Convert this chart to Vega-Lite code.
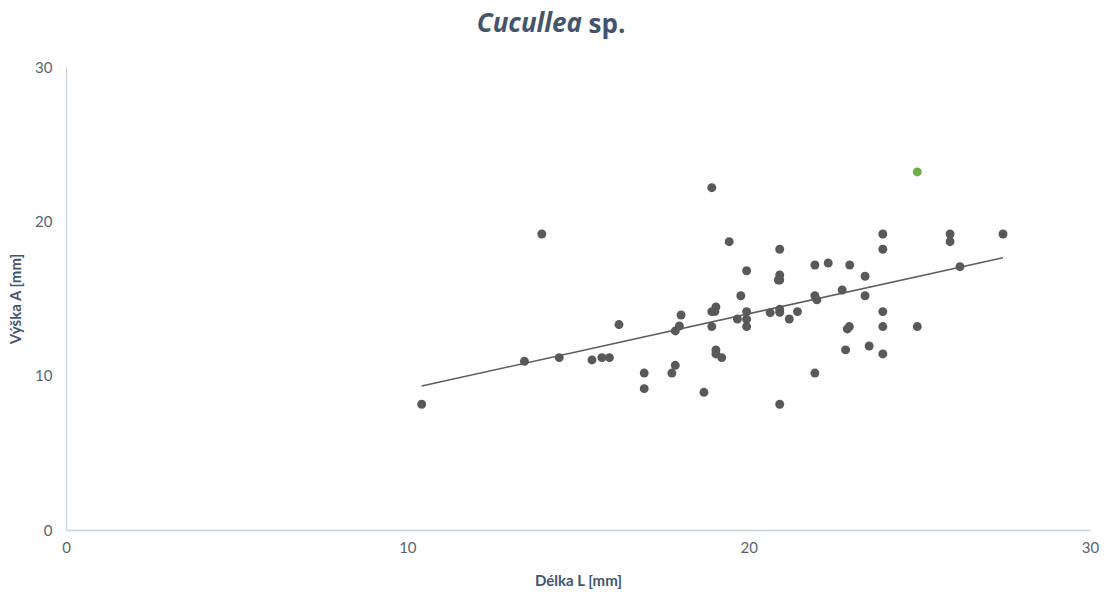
{
  "$schema": "https://vega.github.io/schema/vega-lite/v6.json",
  "width": 1024,
  "height": 463,
  "autosize": "none",
  "padding": {"left": 66, "top": 67, "right": 16, "bottom": 62},
  "background": "white",
  "title": {
    "text": "Cucullea",
    "anchor": "middle",
    "align": "right",
    "frame": "group",
    "dx": 4,
    "offset": -26,
    "font": "Open Sans",
    "fontSize": 26,
    "fontWeight": "bold",
    "fontStyle": "italic",
    "color": "#44546A"
  },
  "config": {
    "view": {"stroke": null},
    "axis": {
      "grid": false,
      "ticks": false,
      "labelFlush": false,
      "domainColor": "#C9D1DB",
      "domainWidth": 1.3,
      "labelFont": "Lato",
      "labelFontSize": 15,
      "labelColor": "#5A6470",
      "titleFont": "Lato",
      "titleFontSize": 15,
      "titleFontWeight": "bold",
      "titleColor": "#44546A"
    }
  },
  "datasets": {
    "mereni": [
      {"L": 10.42, "A": 8.15, "skupina": "vzorek"},
      {"L": 13.43, "A": 10.93, "skupina": "vzorek"},
      {"L": 13.94, "A": 19.18, "skupina": "vzorek"},
      {"L": 14.45, "A": 11.17, "skupina": "vzorek"},
      {"L": 15.41, "A": 11.02, "skupina": "vzorek"},
      {"L": 15.7, "A": 11.17, "skupina": "vzorek"},
      {"L": 15.92, "A": 11.17, "skupina": "vzorek"},
      {"L": 16.2, "A": 13.31, "skupina": "vzorek"},
      {"L": 16.94, "A": 10.17, "skupina": "vzorek"},
      {"L": 16.94, "A": 9.16, "skupina": "vzorek"},
      {"L": 17.75, "A": 10.17, "skupina": "vzorek"},
      {"L": 17.85, "A": 10.67, "skupina": "vzorek"},
      {"L": 17.85, "A": 12.9, "skupina": "vzorek"},
      {"L": 17.97, "A": 13.22, "skupina": "vzorek"},
      {"L": 18.02, "A": 13.93, "skupina": "vzorek"},
      {"L": 18.69, "A": 8.92, "skupina": "vzorek"},
      {"L": 18.92, "A": 22.18, "skupina": "vzorek"},
      {"L": 18.92, "A": 13.18, "skupina": "vzorek"},
      {"L": 18.92, "A": 14.15, "skupina": "vzorek"},
      {"L": 19.04, "A": 14.45, "skupina": "vzorek"},
      {"L": 19.01, "A": 14.15, "skupina": "vzorek"},
      {"L": 19.04, "A": 11.67, "skupina": "vzorek"},
      {"L": 19.04, "A": 11.41, "skupina": "vzorek"},
      {"L": 19.21, "A": 11.17, "skupina": "vzorek"},
      {"L": 19.43, "A": 18.68, "skupina": "vzorek"},
      {"L": 19.67, "A": 13.67, "skupina": "vzorek"},
      {"L": 19.77, "A": 15.18, "skupina": "vzorek"},
      {"L": 19.94, "A": 16.8, "skupina": "vzorek"},
      {"L": 19.94, "A": 14.15, "skupina": "vzorek"},
      {"L": 19.94, "A": 13.66, "skupina": "vzorek"},
      {"L": 19.94, "A": 13.18, "skupina": "vzorek"},
      {"L": 20.63, "A": 14.08, "skupina": "vzorek"},
      {"L": 20.91, "A": 18.19, "skupina": "vzorek"},
      {"L": 20.91, "A": 16.53, "skupina": "vzorek"},
      {"L": 20.91, "A": 16.2, "skupina": "vzorek"},
      {"L": 20.87, "A": 16.2, "skupina": "vzorek"},
      {"L": 20.91, "A": 14.3, "skupina": "vzorek"},
      {"L": 20.91, "A": 14.11, "skupina": "vzorek"},
      {"L": 20.91, "A": 8.15, "skupina": "vzorek"},
      {"L": 21.19, "A": 13.67, "skupina": "vzorek"},
      {"L": 21.43, "A": 14.15, "skupina": "vzorek"},
      {"L": 21.94, "A": 17.17, "skupina": "vzorek"},
      {"L": 21.94, "A": 15.18, "skupina": "vzorek"},
      {"L": 22.0, "A": 14.91, "skupina": "vzorek"},
      {"L": 21.94, "A": 10.17, "skupina": "vzorek"},
      {"L": 22.33, "A": 17.3, "skupina": "vzorek"},
      {"L": 22.74, "A": 15.55, "skupina": "vzorek"},
      {"L": 22.84, "A": 11.67, "skupina": "vzorek"},
      {"L": 22.89, "A": 13.03, "skupina": "vzorek"},
      {"L": 22.95, "A": 13.18, "skupina": "vzorek"},
      {"L": 22.96, "A": 17.17, "skupina": "vzorek"},
      {"L": 23.41, "A": 16.44, "skupina": "vzorek"},
      {"L": 23.41, "A": 15.18, "skupina": "vzorek"},
      {"L": 23.53, "A": 11.92, "skupina": "vzorek"},
      {"L": 23.93, "A": 19.18, "skupina": "vzorek"},
      {"L": 23.93, "A": 18.19, "skupina": "vzorek"},
      {"L": 23.93, "A": 14.15, "skupina": "vzorek"},
      {"L": 23.93, "A": 13.18, "skupina": "vzorek"},
      {"L": 23.93, "A": 11.41, "skupina": "vzorek"},
      {"L": 24.94, "A": 13.18, "skupina": "vzorek"},
      {"L": 25.9, "A": 19.18, "skupina": "vzorek"},
      {"L": 25.9, "A": 18.68, "skupina": "vzorek"},
      {"L": 26.19, "A": 17.06, "skupina": "vzorek"},
      {"L": 27.45, "A": 19.18, "skupina": "vzorek"},
      {"L": 24.94, "A": 23.2, "skupina": "zvýrazněný"}
    ]
  },
  "data": {"name": "mereni"},
  "encoding": {
    "y": {
      "field": "A",
      "type": "quantitative",
      "scale": {"domain": [0, 30], "nice": false},
      "axis": {"values": [0, 10, 20, 30], "title": "Výška A [mm]", "labelPadding": 14, "titleX": -43}
    }
  },
  "layer": [
    {
      "transform": [
        {"regression": "A", "on": "L", "method": "linear"}
      ],
      "mark": {"type": "line", "color": "#5F5F5F", "strokeWidth": 1.6},
      "encoding": {
        "x": {
          "field": "L",
          "type": "quantitative",
          "scale": {"domain": [0, 30], "nice": false, "zero": true},
          "axis": {"values": [0, 10, 20, 30], "title": "Délka L [mm]", "labelPadding": 10, "titleBaseline": "alphabetic", "titleY": 55}
        }
      }
    },
    {
      "mark": {"type": "circle", "size": 80, "opacity": 1},
      "encoding": {
        "x": {
          "field": "L",
          "type": "quantitative",
          "axis": {
            "orient": "top",
            "domain": false,
            "ticks": false,
            "labels": false,
            "title": "sp.",
            "titleX": 522,
            "titleY": -35,
            "titleAngle": 0,
            "titleAlign": "left",
            "titleBaseline": "alphabetic",
            "titleFont": "Open Sans",
            "titleFontSize": 26,
            "titleFontWeight": "bold",
            "titleColor": "#44546A"
          }
        },
        "color": {
          "field": "skupina",
          "type": "nominal",
          "scale": {"domain": ["vzorek", "zvýrazněný"], "range": ["#595959", "#70AD47"]},
          "legend": null
        }
      }
    }
  ],
  "resolve": {"axis": {"x": "independent"}}
}
